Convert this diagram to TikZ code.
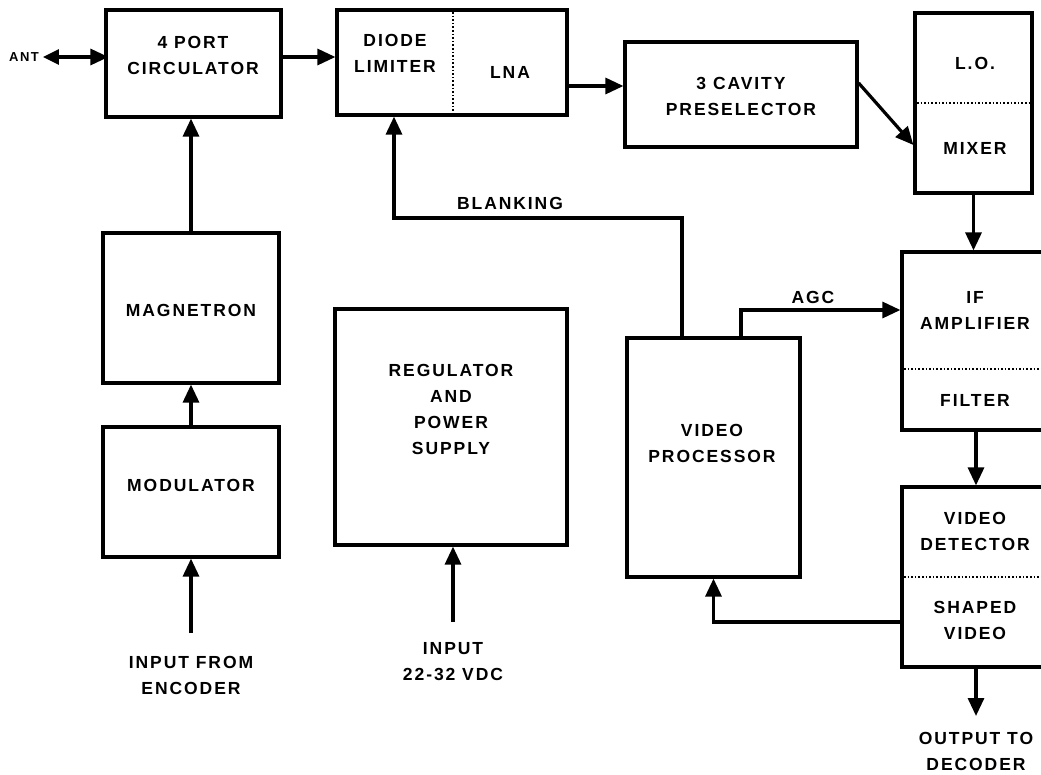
\documentclass[tikz,border=0pt]{standalone}
\usepackage{fontspec}
\newfontfamily\diag{Liberation Sans}[LetterSpace=11]
\usetikzlibrary{arrows.meta}
\begin{document}
\begin{tikzpicture}[x=1pt,y=-1pt,
  box/.style={draw, line width=3.2pt, inner sep=0pt},
  lbl/.style={font=\diag\bfseries\fontsize{17.5}{26}\selectfont, align=center, inner sep=0pt},
  conn/.style={line width=3.2pt, -{Triangle[length=18pt,width=16pt]}},
  divider/.style={dotted, line width=1.6pt}]
\useasboundingbox (0,0) rectangle (1041,775);
% boxes
\node[box, minimum width=175pt, minimum height=107pt] (circ) at (193.5,63.5) {};
\node[lbl] (circt) at (193,55) {4 PORT\\CIRCULATOR};
\node[box, minimum width=230pt, minimum height=105pt] (dl) at (452,62.5) {};
\node[lbl] (dlt) at (395,53) {DIODE\\LIMITER};
\node[lbl] (lnat) at (510,72) {LNA};
\draw[divider] ([xshift=1pt]dl.north) -- ([xshift=1pt]dl.south);
\node[box, minimum width=232pt, minimum height=105pt] (pre) at (741,94.5) {};
\node[lbl] (pret) at (741,96) {3 CAVITY\\PRESELECTOR};
\node[box, minimum width=117pt, minimum height=180pt] (lomix) at (973.5,103) {};
\node[lbl] (lot) at (975,63) {L.O.};
\node[lbl] (mixt) at (975,148) {MIXER};
\draw[divider] (lomix.west) -- (lomix.east);
\node[box, minimum width=148pt, minimum height=178pt] (ifa) at (976,341) {};
\node[lbl] (ifat) at (975,310) {IF\\AMPLIFIER};
\node[lbl] (filt) at (975,400) {FILTER};
\draw[divider] ([yshift=-28pt]ifa.west) -- ([yshift=-28pt]ifa.east);
\node[box, minimum width=148pt, minimum height=180pt] (vd) at (976,577) {};
\node[lbl] (vdt) at (975,531) {VIDEO\\DETECTOR};
\node[lbl] (svt) at (975,620) {SHAPED\\VIDEO};
\draw[divider] (vd.west) -- (vd.east);
\node[box, minimum width=173pt, minimum height=239pt] (vp) at (713.5,457.5) {};
\node[lbl] (vpt) at (712,443) {VIDEO\\PROCESSOR};
\node[box, minimum width=176pt, minimum height=150pt] (mag) at (191,308) {};
\node[lbl] (magt) at (191,310) {MAGNETRON};
\node[box, minimum width=176pt, minimum height=130pt] (mod) at (191,492) {};
\node[lbl] (modt) at (191,485) {MODULATOR};
\node[box, minimum width=232pt, minimum height=236pt] (reg) at (451,427) {};
\node[lbl] (regt) at (451,409) {REGULATOR\\AND\\POWER\\SUPPLY};
% free labels
\node[lbl, font=\diag\bfseries\fontsize{13}{14}\selectfont] (ant) at (24,57) {ANT};
\node[lbl] (blank) at (510,203) {BLANKING};
\node[lbl] (agc) at (813,297) {AGC};
\node[lbl] (encl) at (191,675) {INPUT FROM\\ENCODER};
\node[lbl] (pwrl) at (453,662) {INPUT\\22-32 VDC};
\node[lbl] (outl) at (976,751.5) {OUTPUT TO\\DECODER};
% coordinates
\coordinate (encin) at (191,633);
\coordinate (pwrin) at (453,622);
\coordinate (outend) at (976,716);
\coordinate (bk) at (394,218);
% connectors
\draw[conn, {Triangle[length=16pt,width=15pt]}-{Triangle[length=18pt,width=16pt]}] ([xshift=4pt]ant.east) -- ([xshift=4pt]ant.east -| circ.west);
\draw[conn] (circ.east |- ant.east) -- (dl.west |- ant.east);
\draw[conn] ([yshift=-23.5pt]dl.east) -- ([yshift=-23.5pt]dl.east -| pre.west);
\draw[conn] ([yshift=11.5pt]pre.east) -- ([yshift=-42pt]lomix.west);
\draw[conn] (lomix.south) -- (lomix.south |- ifa.north);
\draw[conn] (ifa.south) -- (vd.north);
\draw[conn] (vd.south) -- (outend);
\draw[conn] ([yshift=-45pt]vd.west) -| (vp.south);
\draw[conn] ([xshift=27.5pt]vp.north) |- ([yshift=31pt]ifa.west);
\draw[conn] ([xshift=-31.5pt]vp.north) |- (bk) -- (bk |- dl.south);
\draw[conn] (mag.north) -- (mag.north |- circ.south);
\draw[conn] (mod.north) -- (mod.north |- mag.south);
\draw[conn] (encin) -- (mod.south);
\draw[conn] (pwrin) -- (pwrin |- reg.south);
\end{tikzpicture}
\end{document}
